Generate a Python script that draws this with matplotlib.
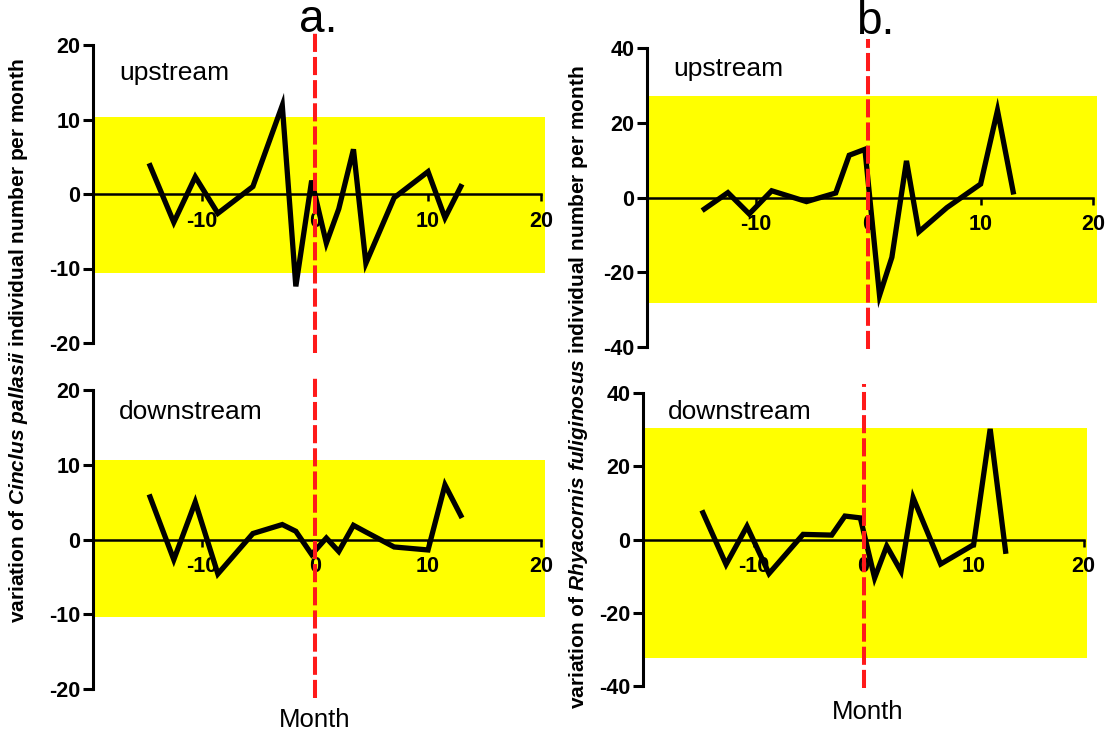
import matplotlib
matplotlib.use("Agg")
import matplotlib.pyplot as plt

plt.rcParams['font.family'] = ['Liberation Sans', 'DejaVu Sans']
plt.rcParams['mathtext.fontset'] = 'custom'
plt.rcParams['mathtext.it'] = 'Liberation Sans:italic:bold'
plt.rcParams['mathtext.rm'] = 'Liberation Sans:bold'

# months relative to the event (shared by all four series)
months = [-14.6, -12.5, -10.6, -8.6, -5.5, -2.9, -1.7, -0.3, 1.0, 2.1,
          3.4, 4.5, 7.0, 10.0, 11.5, 12.9]

# Cinclus pallasii
cp_up = [3.8, -3.8, 2.3, -2.6, 1.0, 11.9, -12.4, 1.8, -6.6, -2.0,
         6.0, -9.3, -0.5, 3.0, -3.2, 1.0]
cp_down = [5.7, -2.7, 5.0, -4.6, 0.8, 2.0, 1.1, -2.0, 0.2, -1.6,
           1.9, 1.0, -1.0, -1.4, 7.3, 3.2]
cp_up_band = (-10.6, 10.4)
cp_down_band = (-10.4, 10.6)

# Rhyacornis fuliginosus
rf_up = [-3.1, 1.3, -4.4, 1.8, -1.1, 1.2, 11.3, 12.9, -26.2, -16.0,
         9.8, -9.2, -2.7, 3.6, 23.3, 1.5]
rf_down = [7.3, -6.8, 3.6, -9.3, 1.4, 1.2, 6.4, 5.9, -10.5, -1.8,
           -8.7, 11.4, -6.7, -1.4, 30.2, -3.2]
rf_up_band = (-28.2, 27.1)
rf_down_band = (-32.3, 30.5)

xticks = [-10, 0, 10, 20]
W, H = 1109, 737
fig = plt.figure(figsize=(W / 100, H / 100), dpi=100)


def px_axes(left, right, top, bottom):
    return fig.add_axes([left / W, 1 - bottom / H, (right - left) / W, (bottom - top) / H])


def panel(ax, y, band, ylim, yticks, xlim, label, lab_y, red_span):
    ax.set_xlim(*xlim)
    ax.set_ylim(*ylim)
    ax.axhspan(band[0], band[1], color='#ffff00', zorder=0, lw=0)
    ax.plot(months, y, color='black', lw=3.8, solid_joinstyle='miter', zorder=3)
    ax.axvline(0, ymin=red_span[0], ymax=red_span[1], color='#ff1a1a', lw=2.9,
               dashes=(4.5, 1.25), clip_on=False, zorder=4)
    for s in ['top', 'right']:
        ax.spines[s].set_visible(False)
    ax.spines['left'].set_linewidth(2.2)
    ax.spines['bottom'].set_position(('data', 0))
    ax.spines['bottom'].set_bounds(xlim[0], 20)
    ax.spines['bottom'].set_linewidth(1.8)
    ax.set_xticks(xticks)
    ax.set_xticklabels([str(t) for t in xticks], fontweight='bold', fontsize=15.5)
    ax.set_yticks(yticks)
    ax.set_yticklabels([str(t) for t in yticks], fontweight='bold', fontsize=15.5)
    ax.tick_params(axis='y', length=7, width=2.2, pad=2)
    ax.tick_params(axis='x', length=5, width=1.8, pad=7)
    ax.text(xlim[0] + 2.3, lab_y, label, fontsize=19, va='center', ha='left')
    ax.patch.set_alpha(0)


ax1 = px_axes(93, 545, 45, 343)
panel(ax1, cp_up, cp_up_band, (-20, 20), [-20, -10, 0, 10, 20], (-19.65, 20.35),
      'upstream', 16.3, (-0.034, 1.04))
ax2 = px_axes(93, 545, 390, 689)
panel(ax2, cp_down, cp_down_band, (-20, 20), [-20, -10, 0, 10, 20], (-19.65, 20.35),
      'downstream', 17.0, (-0.03, 1.05))
ax3 = px_axes(647, 1097, 48, 347)
panel(ax3, rf_up, rf_up_band, (-40, 40), [-40, -20, 0, 20, 40], (-19.7, 20.36),
      'upstream', 34.5, (-0.007, 1.03))
ax4 = px_axes(643, 1087, 393, 686)
panel(ax4, rf_down, rf_down_band, (-40, 40), [-40, -20, 0, 20, 40], (-20.05, 20.3),
      'downstream', 34.7, (-0.007, 1.03))

fig.text(318 / W, 1 - 20 / H, 'a.', fontsize=33, ha='center', va='center')
fig.text(875 / W, 1 - 22 / H, 'b.', fontsize=33, ha='center', va='center')
fig.text(315 / W, 1 - 720 / H, 'Month', fontsize=18.5, ha='center', va='center')
fig.text(868 / W, 1 - 712 / H, 'Month', fontsize=18.5, ha='center', va='center')

fig.text(19 / W, 1 - 341 / H,
         r'variation of $\it{Cinclus\ pallasii}$ individual number per month',
         fontsize=15, fontweight='bold', rotation=90, ha='center', va='center')
fig.text(578 / W, 1 - 387 / H,
         r'variation of $\it{Rhyacornis\ fuliginosus}$ individual number per month',
         fontsize=15, fontweight='bold', rotation=90, ha='center', va='center')

fig.savefig('out.png', dpi=100)
